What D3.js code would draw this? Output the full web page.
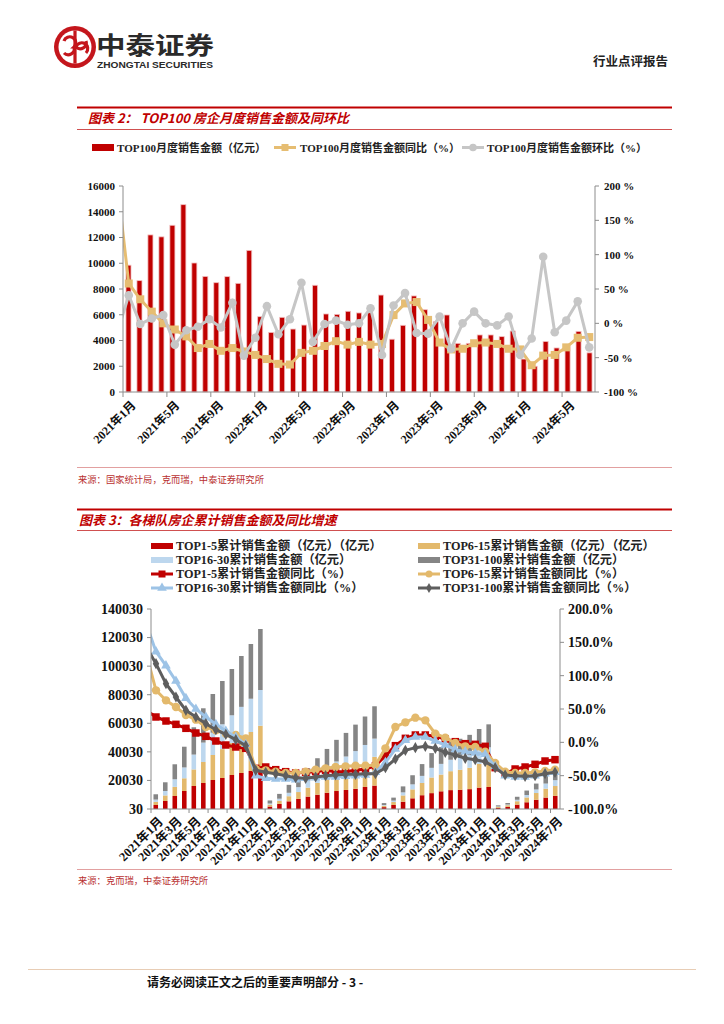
<!DOCTYPE html>
<html><head><meta charset="utf-8">
<script src="https://cdn.jsdelivr.net/npm/d3@7/dist/d3.min.js"></script>
<style>html,body{margin:0;padding:0;background:#fff;}svg{display:block;}</style>
</head><body>
<svg id="page" width="724" height="1024"></svg>
<script>
// ---------------- DATA ----------------
const months = ["2021年1月","2021年2月","2021年3月","2021年4月","2021年5月","2021年6月","2021年7月","2021年8月","2021年9月","2021年10月","2021年11月","2021年12月",
"2022年1月","2022年2月","2022年3月","2022年4月","2022年5月","2022年6月","2022年7月","2022年8月","2022年9月","2022年10月","2022年11月","2022年12月",
"2023年1月","2023年2月","2023年3月","2023年4月","2023年5月","2023年6月","2023年7月","2023年8月","2023年9月","2023年10月","2023年11月","2023年12月",
"2024年1月","2024年2月","2024年3月","2024年4月","2024年5月","2024年6月","2024年7月"];

// Chart 1: TOP100 monthly sales (亿元), YoY (%), MoM (%)
const top100Sales = [9850,8650,12200,12050,12950,14550,10020,8980,8490,8960,8440,11000,
5850,4630,5800,4890,5200,8290,6060,6030,6270,6140,6160,7530,
4100,5180,7460,6390,5460,5980,3780,3780,4430,4430,4300,4740,
2560,2000,3930,3420,3560,4710,3040];
const top100YoY = [null,204,58,35,17,0,-9,-19,-36,-30,-40,-36,
-41,-46,-52,-59,-60,-43,-40,-33,-26,-31,-27,-31,
-30,12,29,31,5,-28,-38,-37,-29,-28,-30,-37,
-38,-61,-47,-46,-35,-21,-20];
const top100MoM = [null,-14,41,-1,7,12,-31,-10,-5,6,-6,30,
-47,-21,25,-16,6,59,-27,-1,4,-2,0,22,
-46,26,44,-14,-15,10,-37,0,17,0,-3,10,
-46,-22,97,-13,4,32,-35];
const chart1LeftTicks = [0,2000,4000,6000,8000,10000,12000,14000,16000];
const chart1RightTicks = [-100,-50,0,50,100,150,200];

// Chart 2: cumulative sales by tier (亿元) and YoY (%)
const top1to5 = [2800,5600,9100,12600,16100,18200,20300,21700,23800,25200,26600,27300,
1710,3530,5370,7060,8690,10010,11370,12590,13330,14110,15430,16380,
1300,2820,5100,7480,9650,11110,12390,13220,13460,13900,14970,15400,
780,1490,3060,4710,6470,8000,9170];
const top6to15 = [2200,3900,6400,8900,11600,14700,17500,20200,22400,25000,27300,31000,
1320,2260,3580,4810,6260,8230,10330,12320,14110,16000,17750,20150,
1000,2060,4400,6250,8580,10950,11720,13240,14040,14960,16600,17330,
660,1150,2380,3380,4720,6240,6910];
const top16to30 = [1600,3100,5300,7600,10400,13600,15600,17400,19400,21300,23300,25000,
800,1430,2390,3420,4580,6260,7330,8350,9310,10440,11650,12750,
520,1000,2150,3520,4950,6760,7480,8020,8290,8980,9790,10460,
320,500,1030,1690,2480,3580,4110];
const top31to100 = [3700,6100,10500,14500,19100,24000,27100,30300,32400,35600,38300,42700,
2150,3360,5570,7250,8980,11040,13010,15150,16520,18510,19920,22630,
1300,2080,4180,6380,8260,10320,11840,12880,13380,14070,14640,16070,
800,1060,2090,3130,4130,5470,6510];
const yoy1to5 = [null,48,38,32,27,21,14,9,2,-4,-7,-9,
-39,-37,-41,-44,-46,-45,-44,-42,-44,-44,-42,-40,
-35,-20,-5,6,11,11,9,5,1,-2,-3,-6,
-38,-47,-40,-37,-33,-28,-26];
const yoy6to15 = [null,134,78,63,53,41,34,23,18,13,11,6,
-40,-42,-44,-46,-46,-44,-41,-39,-37,-36,-35,-35,
-34,-9,23,30,37,33,13,7,-1,-6,-7,-14,
-31,-44,-46,-46,-45,-43,-41];
const yoy16to30 = [null,179,136,115,92,66,50,38,27,17,8,-3,
-50,-54,-55,-55,-56,-54,-53,-52,-52,-51,-50,-49,
-45,-30,-10,3,8,8,2,-4,-11,-14,-16,-18,
-36,-50,-52,-52,-50,-47,-45];
const yoy31to100 = [null,144,118,88,68,48,38,28,19,12,4,-5,
-42,-45,-47,-50,-53,-54,-52,-50,-49,-48,-48,-47,
-47,-38,-25,-12,-8,-6,-9,-15,-19,-24,-26,-29,
-38,-49,-50,-51,-50,-47,-45];
const chart2LeftTicks = [30,20030,40030,60030,80030,100030,120030,140030];
const chart2RightTicks = [-100,-50,0,50,100,150,200];

// ---------------- STYLE ----------------
const RED = "#C00000";
const SERIF = "'Liberation Serif','Times New Roman','Noto Sans CJK SC',serif";
const CJK = "'Noto Sans CJK SC','Liberation Sans',sans-serif";
const AXIS = "#8c8c8c";

const svg = d3.select("#page");
svg.append("rect").attr("width",724).attr("height",1024).attr("fill","#fff");

// ---------------- HEADER ----------------
const logo = svg.append("g").attr("transform","translate(75,47)");
logo.append("circle").attr("r",21).attr("fill","#C4161C");
logo.append("circle").attr("r",16.5).attr("fill","#fff");
logo.append("path").attr("d","M-11,-6 A6,6 0 1,1 -1,0 L1,0 A6,6 0 1,1 11,6").attr("fill","none").attr("stroke","#C4161C").attr("stroke-width",3.2);
logo.append("path").attr("d","M-11,6 A6,6 0 0,0 -1,0 M1,0 A6,6 0 0,0 11,-6").attr("fill","none").attr("stroke","#C4161C").attr("stroke-width",3.2);
logo.append("rect").attr("x",-1.6).attr("y",-16.5).attr("width",3.2).attr("height",33).attr("fill","#C4161C");
svg.append("text").attr("x",96).attr("y",54).attr("font-family",CJK).attr("font-weight",700)
  .attr("font-size",24).attr("fill","#2a2a2a").attr("textLength",118).attr("lengthAdjust","spacingAndGlyphs").text("中泰证券");
svg.append("text").attr("x",97).attr("y",68).attr("font-family","'Liberation Sans',Arial,sans-serif").attr("font-weight",700)
  .attr("font-size",8.5).attr("fill","#2a2a2a").attr("textLength",116).attr("lengthAdjust","spacingAndGlyphs").text("ZHONGTAI SECURITIES");
svg.append("text").attr("x",668).attr("y",66).attr("text-anchor","end").attr("font-family",CJK).attr("font-weight",700)
  .attr("font-size",12.5).attr("fill","#222").text("行业点评报告");

function hline(y, x1, x2, color, w){
  svg.append("line").attr("x1",x1).attr("x2",x2).attr("y1",y).attr("y2",y).attr("stroke",color).attr("stroke-width",w);
}
function title(y, x, txt){
  svg.append("text").attr("x",x).attr("y",y).attr("font-family",CJK).attr("font-weight",700)
    .attr("font-style","italic").attr("font-size",13).attr("fill",RED).text(txt);
}
function source(y, txt){
  svg.append("text").attr("x",78).attr("y",y).attr("font-family",CJK)
    .attr("font-size",9.3).attr("fill","#B83030").text(txt);
}

// ---------------- CHART 1 ----------------
hline(107.5,77,672,RED,2);
hline(129.5,77,672,"#D05050",1);
title(123,88,"图表 2： TOP100 房企月度销售金额及同环比");

(function(){
  const x0=123, x1=595, yT=186, yB=392;
  const xb = d3.scaleBand().domain(months).range([x0,x1]).padding(0);
  const xl = d3.scaleLinear().domain([1.5,42.5]).range([x0,x1]);
  const yL = d3.scaleLinear().domain([0,16000]).range([yB,yT]);
  const yR = d3.scaleLinear().domain([-100,200]).range([yB,yT]);
  const g = svg.append("g");
  const bw = xb.bandwidth()*0.46;

  // legend
  const lg = g.append("g").attr("font-family",SERIF).attr("font-weight",700).attr("font-size",11).attr("fill","#222");
  lg.append("rect").attr("x",92).attr("y",144).attr("width",22).attr("height",7).attr("fill",RED);
  lg.append("text").attr("x",117).attr("y",151.5).text("TOP100月度销售金额（亿元）");
  lg.append("line").attr("x1",274).attr("x2",296).attr("y1",147.5).attr("y2",147.5).attr("stroke","#E6BD72").attr("stroke-width",3);
  lg.append("rect").attr("x",281.5).attr("y",144).attr("width",7).attr("height",7).attr("fill","#E6BD72");
  lg.append("text").attr("x",300).attr("y",151.5).text("TOP100月度销售金额同比（%）");
  lg.append("line").attr("x1",462).attr("x2",484).attr("y1",147.5).attr("y2",147.5).attr("stroke","#C6C6C6").attr("stroke-width",3);
  lg.append("circle").attr("cx",473).attr("cy",147.5).attr("r",3.8).attr("fill","#C6C6C6");
  lg.append("text").attr("x",487).attr("y",151.5).text("TOP100月度销售金额环比（%）");

  // bars
  g.append("g").selectAll("rect").data(top100Sales).join("rect")
    .attr("x",(d,i)=>xb(months[i])+xb.bandwidth()/2-bw/2)
    .attr("y",d=>yL(d)).attr("width",bw).attr("height",d=>yB-yL(d))
    .attr("fill",RED).attr("stroke","#F2C2C2").attr("stroke-width",0.8);

  // clip
  svg.append("clipPath").attr("id","clip1").append("rect").attr("x",x0).attr("y",yT-10).attr("width",x1-x0).attr("height",yB-yT+20);
  const lines = g.append("g").attr("clip-path","url(#clip1)");
  const mk = arr => arr.map((v,i)=>({i,v})).filter(d=>d.v!==null);
  const line = d3.line().x(d=>xl(d.i)).y(d=>yR(d.v));
  const yoy = mk(top100YoY), mom = mk(top100MoM);
  lines.append("path").datum(yoy).attr("d",line).attr("fill","none").attr("stroke","#E6BD72").attr("stroke-width",3);
  lines.append("g").selectAll("rect").data(yoy).join("rect")
    .attr("x",d=>xl(d.i)-4).attr("y",d=>yR(d.v)-4).attr("width",8).attr("height",8).attr("fill","#E6BD72");
  lines.append("path").datum(mom).attr("d",line).attr("fill","none").attr("stroke","#C6C6C6").attr("stroke-width",3);
  lines.append("g").selectAll("circle").data(mom).join("circle")
    .attr("cx",d=>xl(d.i)).attr("cy",d=>yR(d.v)).attr("r",4.3).attr("fill","#C6C6C6");

  // axes
  const ax = g.append("g").attr("font-family",SERIF).attr("font-weight",700).attr("font-size",11).attr("fill","#111");
  ax.append("line").attr("x1",x0).attr("x2",x0).attr("y1",yT).attr("y2",yB).attr("stroke",AXIS);
  ax.append("line").attr("x1",x1).attr("x2",x1).attr("y1",yT).attr("y2",yB).attr("stroke",AXIS);
  ax.append("line").attr("x1",x0).attr("x2",x1).attr("y1",yB).attr("y2",yB).attr("stroke",AXIS);
  chart1LeftTicks.forEach(t=>{
    ax.append("line").attr("x1",x0-4).attr("x2",x0).attr("y1",yL(t)).attr("y2",yL(t)).attr("stroke",AXIS);
    ax.append("text").attr("x",x0-8).attr("y",yL(t)).attr("dy","0.35em").attr("text-anchor","end").text(t);
  });
  chart1RightTicks.forEach(t=>{
    ax.append("line").attr("x1",x1).attr("x2",x1+4).attr("y1",yR(t)).attr("y2",yR(t)).attr("stroke",AXIS);
    ax.append("text").attr("x",x1+9).attr("y",yR(t)).attr("dy","0.35em").text(t+" %");
  });
  months.forEach((m,i)=>{
    if(i%4===0){
      const xt = xb(m);
      ax.append("line").attr("x1",xt).attr("x2",xt).attr("y1",yB).attr("y2",yB+5).attr("stroke",AXIS);
      ax.append("text").attr("text-anchor","end").attr("font-size",12)
        .attr("transform",`translate(${xt+xb.bandwidth()/2+5},${yB+11}) rotate(-45)`).attr("dy","0.35em").text(m);
    }
  });
})();

hline(467.5,77,672,"#E2A0A0",1);
source(483,"来源：国家统计局，克而瑞，中泰证券研究所");

// ---------------- CHART 2 ----------------
hline(509.5,77,672,RED,2);
hline(530.5,77,672,"#D05050",1);
title(525,79,"图表 3：各梯队房企累计销售金额及同比增速");

(function(){
  const x0=151, x1=560, yT=609, yB=809;
  const xb = d3.scaleBand().domain(months).range([x0,x1]).padding(0);
  const xl = d3.scaleLinear().domain([1.5,42.5]).range([x0,x1]);
  const yL = d3.scaleLinear().domain([30,140030]).range([yB,yT]);
  const yR = d3.scaleLinear().domain([-100,200]).range([yB,yT]);
  const g = svg.append("g");
  const bw = xb.bandwidth()*0.48;
  const C = {red:RED, tan:"#E3B96C", lb:"#BDD7EE", gr:"#858585", lbLine:"#9DC3E6", grLine:"#5E5E5E"};

  // legend
  const lg = g.append("g").attr("font-family",SERIF).attr("font-weight",700).attr("font-size",12.2).attr("fill","#222");
  const rows=[546,560,574,588];
  function legRect(x,y,c){ lg.append("rect").attr("x",x).attr("y",y-3).attr("width",22).attr("height",6).attr("fill",c); }
  function legLine(x,y,c,shape){
    lg.append("line").attr("x1",x).attr("x2",x+22).attr("y1",y).attr("y2",y).attr("stroke",c).attr("stroke-width",3);
    const cx=x+11;
    if(shape==="sq") lg.append("rect").attr("x",cx-3.5).attr("y",y-3.5).attr("width",7).attr("height",7).attr("fill",c);
    if(shape==="ci") lg.append("circle").attr("cx",cx).attr("cy",y).attr("r",3.5).attr("fill",c);
    if(shape==="tr") lg.append("path").attr("d",d3.symbol(d3.symbolTriangle,40)()).attr("transform",`translate(${cx},${y})`).attr("fill",c);
    if(shape==="di") lg.append("path").attr("d",d3.symbol(d3.symbolDiamond,30)()).attr("transform",`translate(${cx},${y})`).attr("fill",c);
  }
  function legText(x,y,t){ lg.append("text").attr("x",x).attr("y",y).attr("dy","0.36em").text(t); }
  legRect(151,rows[0],C.red); legText(176,rows[0],"TOP1-5累计销售金额（亿元）（亿元）");
  legRect(418,rows[0],C.tan); legText(443,rows[0],"TOP6-15累计销售金额（亿元）（亿元）");
  legRect(151,rows[1],C.lb); legText(176,rows[1],"TOP16-30累计销售金额（亿元）");
  legRect(418,rows[1],C.gr); legText(443,rows[1],"TOP31-100累计销售金额（亿元）");
  legLine(151,rows[2],C.red,"sq"); legText(176,rows[2],"TOP1-5累计销售金额同比（%）");
  legLine(418,rows[2],C.tan,"ci"); legText(443,rows[2],"TOP6-15累计销售金额同比（%）");
  legLine(151,rows[3],C.lbLine,"tr"); legText(176,rows[3],"TOP16-30累计销售金额同比（%）");
  legLine(418,rows[3],C.grLine,"di"); legText(443,rows[3],"TOP31-100累计销售金额同比（%）");

  // stacked bars
  const table = months.map((m,i)=>({m, a:top1to5[i], b:top6to15[i], c:top16to30[i], d:top31to100[i]}));
  const stack = d3.stack().keys(["a","b","c","d"])(table);
  const cols = [C.red,C.tan,C.lb,C.gr];
  g.append("g").selectAll("g").data(stack).join("g").attr("fill",(d,i)=>cols[i])
    .selectAll("rect").data(d=>d).join("rect")
    .attr("x",d=>xb(d.data.m)+xb.bandwidth()/2-bw/2)
    .attr("y",d=>yL(30+d[1])).attr("width",bw).attr("height",d=>yL(30+d[0])-yL(30+d[1]));

  // lines
  svg.append("clipPath").attr("id","clip2").append("rect").attr("x",x0).attr("y",yT-10).attr("width",x1-x0).attr("height",yB-yT+20);
  const lines = g.append("g").attr("clip-path","url(#clip2)");
  const mk = arr => arr.map((v,i)=>({i,v})).filter(d=>d.v!==null);
  const line = d3.line().x(d=>xl(d.i)).y(d=>yR(d.v));
  const series = [
    {data:mk(yoy1to5), c:C.red, shape:"sq"},
    {data:mk(yoy6to15), c:C.tan, shape:"ci"},
    {data:mk(yoy16to30), c:C.lbLine, shape:"tr"},
    {data:mk(yoy31to100), c:C.grLine, shape:"di"}
  ];
  series.forEach(s=>{
    lines.append("path").datum(s.data).attr("d",line).attr("fill","none").attr("stroke",s.c).attr("stroke-width",3);
    const sel = lines.append("g").attr("fill",s.c).selectAll("path").data(s.data).join("path")
      .attr("transform",d=>`translate(${xl(d.i)},${yR(d.v)})`);
    if(s.shape==="sq") sel.attr("d",d3.symbol(d3.symbolSquare,56)());
    if(s.shape==="ci") sel.attr("d",d3.symbol(d3.symbolCircle,55)());
    if(s.shape==="tr") sel.attr("d",d3.symbol(d3.symbolTriangle,40)());
    if(s.shape==="di") sel.attr("d",d3.symbol(d3.symbolDiamond,36)());
  });

  // axes
  const ax = g.append("g").attr("font-family",SERIF).attr("font-weight",700).attr("font-size",14).attr("fill","#111");
  ax.append("line").attr("x1",x0).attr("x2",x0).attr("y1",yT).attr("y2",yB).attr("stroke",AXIS);
  ax.append("line").attr("x1",x1).attr("x2",x1).attr("y1",yT).attr("y2",yB).attr("stroke",AXIS);
  ax.append("line").attr("x1",x0).attr("x2",x1).attr("y1",yB).attr("y2",yB).attr("stroke",AXIS);
  chart2LeftTicks.forEach(t=>{
    ax.append("line").attr("x1",x0-4).attr("x2",x0).attr("y1",yL(t)).attr("y2",yL(t)).attr("stroke",AXIS);
    ax.append("text").attr("x",x0-8).attr("y",yL(t)).attr("dy","0.35em").attr("text-anchor","end").text(t);
  });
  chart2RightTicks.forEach(t=>{
    ax.append("line").attr("x1",x1).attr("x2",x1+4).attr("y1",yR(t)).attr("y2",yR(t)).attr("stroke",AXIS);
    ax.append("text").attr("x",x1+8).attr("y",yR(t)).attr("dy","0.35em").text(t.toFixed(1)+"%");
  });
  months.forEach((m,i)=>{
    if(i%2===0){
      const xt = xb(m);
      ax.append("line").attr("x1",xt).attr("x2",xt).attr("y1",yB).attr("y2",yB+4).attr("stroke",AXIS);
      ax.append("text").attr("text-anchor","end").attr("font-size",12.5)
        .attr("transform",`translate(${xt+xb.bandwidth()/2+5},${yB+10}) rotate(-45)`).attr("dy","0.35em").text(m);
    }
  });
})();

hline(869.5,77,672,"#E2A0A0",1);
source(884,"来源：克而瑞，中泰证券研究所");

// ---------------- FOOTER ----------------
hline(969.5,28,696,"#E8CDB5",1);
svg.append("text").attr("x",147).attr("y",987).attr("font-family",CJK).attr("font-weight",700)
  .attr("font-size",12).attr("fill","#111").text("请务必阅读正文之后的重要声明部分 - 3 -");
</script>
</body></html>
